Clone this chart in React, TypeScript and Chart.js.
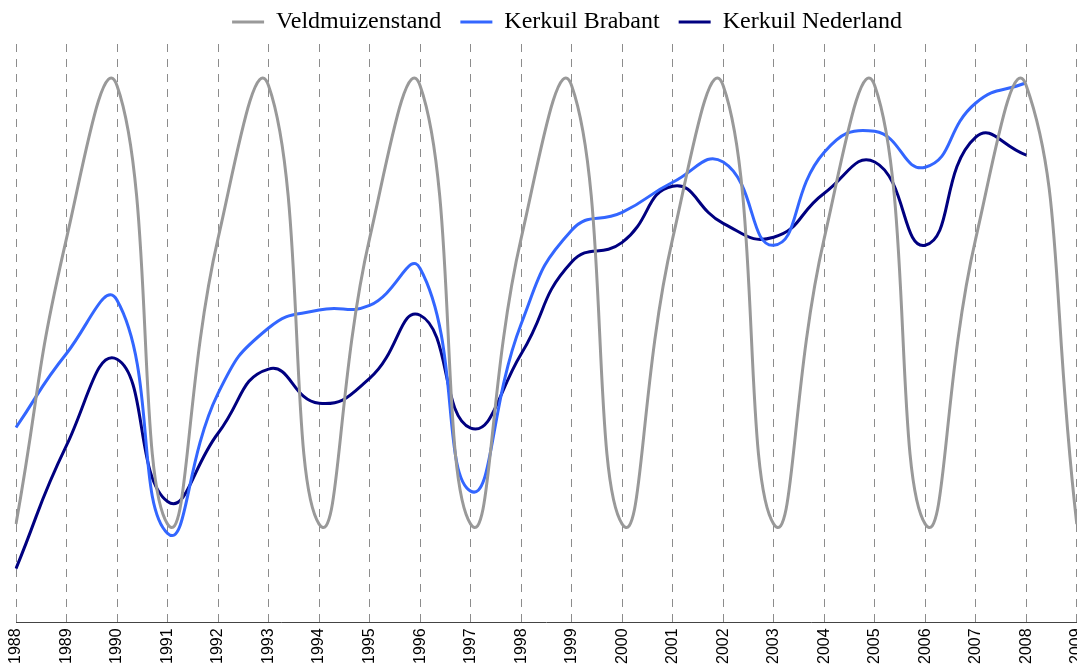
import React, { useEffect, useRef } from "react";
import { Chart, registerables } from "chart.js";

Chart.register(...registerables);

const years = [
  "1988", "1989", "1990", "1991", "1992", "1993", "1994", "1995", "1996", "1997", "1998",
  "1999", "2000", "2001", "2002", "2003", "2004", "2005", "2006", "2007", "2008", "2009",
];

// index values (0-100)
const veldmuizenstand = [
  17.0, 66.4, 92.8, 17.0, 66.4, 92.8, 17.0, 66.4, 92.8, 17.0, 66.4,
  92.8, 17.0, 66.4, 92.8, 17.0, 66.4, 92.8, 17.0, 66.4, 92.8, 17.0,
];

const kerkuilBrabant = [
  33.7, 46.5, 55.7, 15.4, 39.6, 50.9, 54.0, 54.8, 61.2, 22.7, 51.6,
  67.8, 70.9, 76.1, 79.6, 65.2, 81.3, 84.9, 78.7, 89.8, 93.3,
];

const kerkuilNederland = [
  9.3, 30.6, 45.5, 20.9, 32.7, 43.8, 37.9, 42.2, 53.1, 33.6, 46.4,
  62.3, 65.7, 75.4, 69.0, 66.6, 74.2, 79.6, 65.2, 83.9, 80.8,
];

const seriesNames = ["Veldmuizenstand", "Kerkuil Brabant", "Kerkuil Nederland"];
const seriesColors = ["#999999", "#3366ff", "#000080"];

const legendShift = {
  id: "legendShift",
  beforeDraw(chart: any) {
    const l = chart.legend;
    if (l) {
      l.left += 14;
      l.right += 14;
    }
  },
};

export default function App() {
  const ref = useRef<HTMLCanvasElement | null>(null);

  useEffect(() => {
    if (!ref.current) return;
    const chart = new Chart(ref.current, {
      type: "line",
      data: {
        labels: years,
        datasets: [
          { label: seriesNames[0], data: veldmuizenstand },
          { label: seriesNames[1], data: kerkuilBrabant },
          { label: seriesNames[2], data: kerkuilNederland },
        ].map((d, i) => ({
          ...d,
          borderColor: seriesColors[i],
          backgroundColor: seriesColors[i],
          borderWidth: 3,
          pointRadius: 0,
          pointHoverRadius: 0,
          tension: 0.5,
          fill: false,
        })),
      },
      options: {
        animation: false,
        responsive: false,
        devicePixelRatio: 1,
        layout: { padding: { left: 16, right: 12, top: -9, bottom: 0 } },
        elements: { line: { capBezierPoints: false } },
        plugins: {
          legend: {
            position: "top",
            labels: {
              usePointStyle: true,
              pointStyle: "line",
              pointStyleWidth: 32,
              padding: 19,
              color: "#000",
              font: { family: "'Liberation Serif', 'Times New Roman', serif", size: 24 },
            },
          },
          tooltip: { enabled: false },
        },
        scales: {
          x: {
            type: "category",
            offset: false,
            grid: {
              display: true,
              drawOnChartArea: true,
              drawTicks: false,
              color: "#8c8c8c",
              lineWidth: 1,
            },
            border: { display: true, color: "#444", width: 1, dash: [8, 7] },
            ticks: {
              autoSkip: false,
              maxRotation: 90,
              minRotation: 90,
              padding: 6,
              color: "#000",
              font: { family: "'Liberation Sans', Arial, sans-serif", size: 16 },
            },
          },
          y: {
            display: false,
            min: 0,
            max: 100,
          },
        },
      },
      plugins: [legendShift],
    });
    return () => chart.destroy();
  }, []);

  return (
    <div
      style={{
        position: "fixed",
        left: 0,
        top: 0,
        width: 1077,
        height: 664,
        overflow: "hidden",
        background: "#fff",
      }}
    >
      <canvas ref={ref} width={1102} height={670} style={{ display: "block", width: 1102, height: 670 }} />
    </div>
  );
}
